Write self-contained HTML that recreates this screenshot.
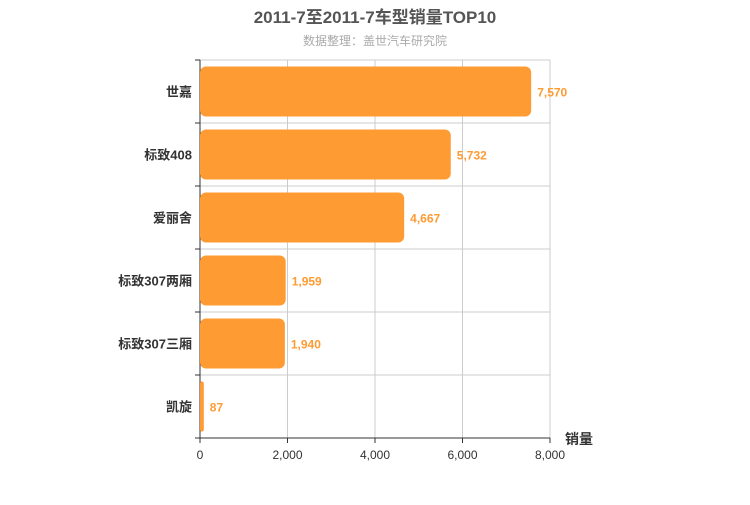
<!DOCTYPE html>
<html><head><meta charset="utf-8"><style>
body{margin:0;background:#fff;width:750px;height:500px;overflow:hidden;font-family:"Liberation Sans","Noto Sans CJK SC",sans-serif}
</style></head><body>
<svg id="c" width="750" height="500" xmlns="http://www.w3.org/2000/svg">
<text x="375" y="23" text-anchor="middle" font-size="17" font-weight="bold" fill="#555">2011-7至2011-7车型销量TOP10</text>
<text x="375" y="45" text-anchor="middle" font-size="12" fill="#aaa">数据整理：盖世汽车研究院</text>
<g id="g"></g>
</svg>
<script>
const categories=["世嘉","标致408","爱丽舍","标致307两厢","标致307三厢","凯旋"];
const values=[7570,5732,4667,1959,1940,87];
const tickValues=[0,2000,4000,6000,8000];
const tickLabels=["0","2,000","4,000","6,000","8,000"];
const X0=200,X1=550,Y0=60,Y1=438,MAX=8000;
const xs=v=>X0+(v/MAX)*(X1-X0);
const band=(Y1-Y0)/categories.length;
const NS="http://www.w3.org/2000/svg";
const g=document.getElementById('g');
function mk(t,a,txt){const e=document.createElementNS(NS,t);for(const k in a)e.setAttribute(k,a[k]);if(txt!==undefined)e.textContent=txt;g.appendChild(e);return e;}
tickValues.forEach((v,i)=>{
 const l=mk('line',{x1:xs(v),x2:xs(v),y1:Y0,y2:Y1,stroke:'#ccc'});
 
 
 const tk=mk('line',{x1:xs(v),x2:xs(v),y1:Y1,y2:Y1+5,stroke:'#333'});
 
 
 const t=mk('text',{x:xs(v),y:Y1+21,'text-anchor':'middle','font-size':12,fill:'#333'},tickLabels[i]);
 
 
});
for(let i=0;i<=categories.length;i++){
 const y=Y0+i*band;
 const l=mk('line',{x1:X0,x2:X1,y1:y,y2:y,stroke:'#ccc'});
 
 
 const tk=mk('line',{x1:X0-5,x2:X0,y1:y,y2:y,stroke:'#333'});
 
 
}
const ax=mk('line',{x1:X0,x2:X0,y1:Y0,y2:Y1,stroke:'#333'});


const bx=mk('line',{x1:X0,x2:X1,y1:Y1,y2:Y1,stroke:'#333'});


categories.forEach((c,i)=>{
 const yc=Y0+band*(i+0.5);
 const w=Math.max(xs(values[i])-X0,3);
 const r=mk('rect',{x:X0,y:yc-25,width:w,height:50,rx:Math.min(6,w/2),fill:'#ff9b33'});
 
 
 const t=mk('text',{x:xs(values[i])+6,y:yc+5,'font-size':12,'font-weight':'bold',fill:'#ff9b33'},values[i].toLocaleString('en-US'));
 
 
 const lb=mk('text',{x:X0-8,y:yc+5,'text-anchor':'end','font-size':13,'font-weight':'bold',fill:'#333'},c);
 
 
});
const an=mk('text',{x:565,y:444,'font-size':14,'font-weight':'bold',fill:'#333'},'销量');


</script>
</body></html>
